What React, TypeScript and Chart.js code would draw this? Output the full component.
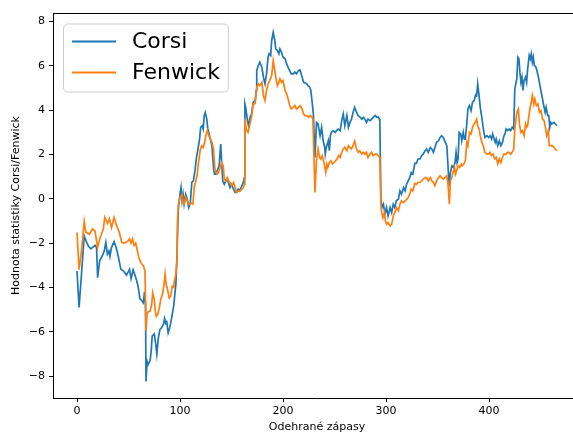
import { useEffect, useRef } from "react";
import { Chart, registerables } from "chart.js";

Chart.register(...registerables);

const seriesNames = ["Corsi", "Fenwick"];
const seriesColors = ["#1f77b4", "#ff7f0e"];
const xTitle = "Odehrané zápasy";
const yTitle = "Hodnota statistiky Corsi/Fenwick";
const xTicks = [0, 100, 200, 300, 400];
const yTicks = [-8, -6, -4, -2, 0, 2, 4, 6, 8];

const corsiGames = [
  0, 2, 4.5, 7, 9.5, 11, 13.5, 17.5, 19, 20, 22, 24.5, 26.5, 28, 29.5, 31, 32, 33.5, 36, 38, 40, 42.5, 45, 48, 51, 52.5, 54.5, 56, 58, 59.5,
  61, 63, 64.5, 65.5, 66.5, 67, 68, 69, 71, 72, 73, 75, 76.5, 77.5, 79, 80.5, 82, 84, 85, 86.5, 87, 88.5, 90, 92, 93, 94, 95, 96, 97, 98,
  98.5, 100, 101, 102, 103, 104, 105.5, 107, 108.5, 110, 111.5, 113, 114.5, 116, 118, 119, 120, 121.5, 122.5, 123.5, 124.5, 126, 127, 128, 129, 131, 132.5, 133.5, 135, 136,
  138, 139.5, 140.5, 141.5, 143, 144.5, 145.5, 147, 148.5, 150, 152, 153.5, 155, 156.5, 158, 160, 161.5, 162.5, 163, 164, 165.5, 166.5, 168, 169.5, 171, 173, 174, 174.5, 176, 177.5,
  179.5, 181, 182.5, 184, 185.5, 186.5, 188, 189, 190.5, 192, 193, 194.5, 196, 197, 198.5, 200, 202, 203.5, 205, 206.5, 208, 210, 211.5, 213, 215, 216.5, 218.5, 220, 223, 224.5,
  226, 227, 228.5, 229.5, 231, 232.5, 234, 236, 237.5, 239, 240.5, 241, 242, 244, 245, 246, 247, 248.5, 250.5, 252, 253.5, 255.5, 257, 258.5, 260, 262, 263.5, 265, 266.5, 268,
  269.5, 271.5, 273, 274.5, 276.5, 278, 279.5, 281, 282.5, 284.5, 286, 287.5, 289.5, 291, 292.5, 293.5, 294, 295, 296, 297.5, 299, 300.5, 302, 304, 305.5, 307, 308.5, 310, 312, 313.5,
  315, 317, 318.5, 320, 321.5, 323, 324.5, 326, 328, 329.5, 331, 333, 334.5, 336, 338, 339.5, 341, 343, 344.5, 346, 347.5, 349, 351, 352.5, 354, 355.5, 357, 359, 360, 360.5,
  361.5, 362.5, 364, 365.5, 367, 368, 369, 370, 371, 372.5, 373.5, 375, 376, 377, 378.5, 379.5, 381, 382.5, 384, 385.5, 387, 388, 389, 390.5, 391.5, 393, 394.5, 396, 398, 399.5,
  401, 402.5, 403.5, 405, 406, 407, 408.5, 410, 411.5, 413, 414.5, 415.5, 416.5, 418, 419.5, 421, 422.5, 424, 425, 426, 427, 428, 429, 430, 431, 432, 433, 434, 435.5, 436.5,
  437.5, 439, 440, 441, 442, 443, 444, 445.5, 446.5, 448, 449.5, 451, 452.5, 454.5, 455.5, 457, 458, 459, 460, 461, 463, 464.5, 466,
];
const corsiValues = [
  -3.26, -4.9, -3.3, -1.67, -1.98, -2.13, -2.26, -2.1, -2.2, -3.56, -2.8, -2.58, -2.35, -1.97, -2.5, -2.35, -2.6, -2.2, -1.93, -2.2, -2.58, -3.17, -3.25, -3.44, -3.18, -3.6, -3.2, -3.4, -3.7, -4.0,
  -4.5, -4.6, -4.7, -4.2, -4.7, -8.24, -7.33, -7.48, -7.3, -6.88, -6.2, -6.1, -6.58, -7.0, -6.27, -5.9, -5.82, -5.66, -5.4, -5.66, -5.5, -6.05, -5.82, -5.35, -5.07, -4.8, -4.3, -3.85, -2.65, -1.0,
  -0.39, 0.22, 0.51, -0.09, 0.21, -0.23, 0.2, -0.02, -0.39, -0.17, 0.74, 0.81, 1.27, 1.87, 2.4, 2.7, 3.23, 3.3, 3.15, 3.76, 3.9, 3.6, 3.15, 3.0, 2.77, 2.4, 1.42, 1.12, 1.12, 1.27,
  1.49, 2.47, 1.64, 0.81, 0.66, 0.81, 0.89, 0.74, 0.51, 0.66, 0.44, 0.29, 0.29, 0.44, 0.36, 0.59, 0.74, 0.96, 4.28, 4.06, 3.53, 3.3, 3.68, 3.83, 4.36, 4.43, 4.89, 5.79, 6.02, 6.17,
  5.94, 5.49, 5.19, 5.64, 6.39, 6.55, 6.47, 7.15, 7.52, 7.15, 6.77, 6.7, 6.55, 6.77, 6.62, 6.39, 6.32, 6.09, 5.94, 5.79, 5.64, 5.64, 5.72, 5.64, 5.79, 5.82, 5.5, 5.26, 5.2, 5.1,
  5.04, 4.9, 4.28, 3.8, 1.87, 3.45, 3.38, 2.85, 3.23, 2.62, 2.32, 2.02, 2.32, 2.62, 2.17, 2.85, 3.0, 3.08, 3.0, 3.08, 3.15, 3.08, 3.53, 3.83, 3.3, 3.76, 3.23, 3.45, 3.6, 3.9,
  4.13, 3.9, 3.75, 3.7, 3.6, 3.68, 3.6, 3.45, 3.6, 3.53, 3.6, 3.68, 3.76, 3.68, 3.7, 3.6, 3.5, 0.06, -0.39, -0.24, -0.69, -0.39, -0.77, -0.39, -0.62, -0.24, -0.39, -0.09, -0.02, 0.36,
  0.21, 0.51, 0.36, 0.66, 0.81, 0.96, 1.19, 1.12, 1.6, 1.6, 1.8, 1.8, 1.95, 2.02, 2.17, 2.25, 2.1, 2.32, 2.25, 2.1, 2.32, 2.55, 2.62, 2.77, 2.85, 2.77, 2.62, 2.4, 1.64, 1.19,
  0.59, 1.19, 1.49, 1.42, 1.64, 2.1, 1.64, 1.8, 3.0, 2.93, 2.62, 3.0, 2.7, 2.7, 3.45, 4.06, 4.21, 3.98, 4.36, 4.43, 4.7, 4.66, 5.19, 4.58, 4.13, 3.68, 3.15, 2.77, 2.85, 2.77,
  2.85, 2.7, 2.93, 2.7, 2.55, 2.7, 2.4, 2.62, 2.4, 2.55, 2.85, 2.93, 3.15, 3.08, 3.15, 3.08, 3.23, 3.15, 4.96, 5.19, 5.42, 6.39, 6.32, 5.72, 5.26, 5.49, 4.89, 5.34, 5.49, 5.26,
  5.87, 6.47, 6.32, 6.55, 6.17, 6.4, 6.02, 5.94, 5.79, 5.49, 5.1, 4.74, 4.36, 3.9, 4.13, 3.76, 3.76, 3.23, 3.45, 3.38, 3.45, 3.38, 3.3,
];

const fenwickGames = [
  0, 2, 4.5, 7, 8.5, 10.5, 12, 15, 17.5, 20, 22, 25.5, 27, 29.5, 31.5, 33.5, 36, 38.5, 41, 43.5, 46.5, 49.5, 51, 52.5, 54, 55.5, 57, 58, 60, 62,
  64.5, 66, 67, 68, 69, 71, 72.5, 73.5, 75, 76, 77, 78.5, 80, 81.5, 83, 84.5, 85.5, 86.5, 87.5, 89.5, 91, 92.5, 94, 94.5, 96, 97, 97.5, 98.5, 100, 102,
  103, 104, 105.5, 107, 109, 111, 112.5, 114, 115, 116.5, 118, 119.5, 121, 122.5, 124, 125, 126.5, 128, 129.5, 131, 132.5, 134, 136, 137.5, 139, 140.5, 142, 143, 144.5, 146,
  147, 148.5, 150, 152, 153.5, 155, 157, 158.5, 160, 161.5, 162.5, 163, 164.5, 166, 168, 169.5, 171, 173, 174.5, 176, 177.5, 179.5, 181, 182.5, 184, 185.5, 187, 189, 190.5, 191.5,
  193, 194.5, 196, 197, 198.5, 200, 202, 203.5, 205, 206.5, 208, 210, 211.5, 213, 215, 216.5, 218.5, 220, 221.5, 223, 225, 226.5, 228, 229, 231, 232.5, 234, 235.5, 236.5, 238,
  240, 241.5, 242.5, 243.5, 245, 246.5, 248, 249.5, 251, 252.5, 254, 255.5, 257, 258.5, 260, 262, 263.5, 265, 266.5, 268, 269.5, 271.5, 273, 274.5, 276.5, 278, 279.5, 281, 282.5, 284.5,
  286, 287.5, 289.5, 291, 292.5, 294, 295, 295.5, 297, 298.5, 299.5, 300.5, 302, 304, 305.5, 307, 308.5, 310, 312, 313.5, 315, 317, 318.5, 320, 321.5, 323, 324.5, 326, 328, 329.5,
  331, 333, 334.5, 336, 338, 339.5, 341, 343, 344.5, 346, 347.5, 349, 351, 352.5, 354, 355.5, 357, 359, 360, 360.5, 361.5, 362.5, 364, 365, 366.5, 367.5, 369, 370, 371.5, 373,
  374, 375.5, 377, 378.5, 379.5, 381, 382.5, 384, 385.5, 387, 388, 389, 390.5, 391.5, 393, 394.5, 396, 398, 399.5, 401, 402.5, 404, 405.5, 407, 408.5, 410, 411.5, 413, 414.5, 416.5,
  418, 419.5, 421, 422.5, 424, 425, 426, 427, 428.5, 429.5, 431, 432.5, 434, 435.5, 436.5, 437.5, 438.5, 440, 441, 442, 443.5, 444.5, 446, 447.5, 449, 450.5, 452, 453.5, 455, 456,
  457.5, 458.5, 460, 461.5, 463, 464.5, 466,
];
const fenwickValues = [
  -1.52, -3.2, -2.3, -1.03, -1.5, -1.55, -1.6, -1.36, -1.45, -2.2, -1.82, -1.36, -0.84, -1.12, -0.9, -1.3, -0.84, -1.22, -1.5, -1.97, -2.0, -1.9, -1.8, -2.0, -1.8, -2.1, -2.0, -2.2, -2.65, -2.88,
  -3.03, -3.26, -5.97, -5.2, -5.1, -5.07, -4.77, -4.24, -4.54, -5.07, -5.3, -5.2, -4.9, -4.5, -4.31, -3.86, -3.4, -3.86, -4.0, -4.47, -4.39, -3.94, -4.0, -3.7, -3.4, -2.8, -1.0, -0.24, 0.06, 0.21,
  -0.17, -0.24, 0.06, -0.1, -0.24, -0.2, -0.24, 0.59, 0.74, 1.04, 1.64, 2.17, 2.4, 2.32, 2.55, 2.85, 3.08, 2.85, 2.7, 2.55, 2.25, 1.27, 1.12, 1.19, 1.42, 1.64, 1.49, 0.89, 0.81, 0.96,
  0.81, 0.74, 0.59, 0.74, 0.51, 0.29, 0.36, 0.36, 0.44, 0.51, 0.66, 3.6, 3.1, 3.0, 3.4, 3.7, 4.28, 4.3, 5.04, 5.19, 5.11, 5.26, 4.66, 4.43, 4.89, 5.19, 5.34, 5.57, 6.24, 5.94,
  5.49, 5.11, 5.26, 5.42, 5.26, 5.34, 4.89, 4.74, 4.51, 4.21, 4.06, 4.13, 4.21, 4.06, 4.13, 4.21, 4.06, 3.83, 3.76, 3.76, 3.68, 3.76, 3.7, 3.6, 0.29, 1.72, 2.25, 1.87, 1.8, 1.95,
  1.57, 1.19, 1.57, 1.42, 1.64, 1.72, 1.57, 1.64, 1.72, 1.8, 1.95, 1.87, 2.1, 2.25, 2.32, 2.17, 2.4, 2.32, 2.25, 2.4, 2.6, 2.25, 2.1, 2.17, 2.02, 2.1, 2.02, 2.1, 1.87, 2.02,
  2.1, 1.95, 2.02, 2.02, 1.95, 1.87, -0.2, -0.54, -0.85, -0.62, -1.0, -1.15, -1.07, -1.22, -1.15, -0.77, -0.62, -0.39, -0.54, -0.24, -0.09, -0.17, -0.09, -0.02, 0.06, 0.21, 0.44, 0.36, 0.7, 0.65,
  0.74, 0.75, 0.81, 0.89, 0.96, 0.96, 0.81, 0.96, 0.81, 0.74, 0.59, 0.81, 0.96, 1.04, 0.96, 0.89, 0.96, 1.04, 0.74, 0.44, -0.24, 0.81, 0.96, 1.19, 1.42, 1.12, 1.34, 1.49, 1.42, 1.57,
  1.49, 1.57, 1.72, 2.55, 2.4, 3.0, 2.93, 3.23, 3.38, 3.5, 3.6, 3.3, 3.15, 2.85, 2.55, 2.4, 2.1, 2.02, 2.02, 2.1, 1.95, 2.02, 1.8, 1.87, 1.57, 1.8, 1.64, 1.87, 2.02, 2.02,
  2.1, 2.1, 2.02, 2.1, 2.25, 3.15, 3.53, 3.9, 4.06, 3.38, 3.0, 3.08, 2.85, 3.38, 3.23, 3.3, 3.68, 4.13, 4.36, 4.66, 4.28, 4.51, 4.21, 4.28, 3.9, 3.98, 3.6, 3.53, 3.15, 2.85,
  3.08, 2.4, 2.4, 2.4, 2.32, 2.25, 2.17,
];

const FONT = '"DejaVu Sans", sans-serif';

const spinesPlugin = {
  id: "mplSpines",
  afterDraw(chart: any) {
    const { ctx, chartArea } = chart;
    ctx.save();
    ctx.strokeStyle = "#000";
    ctx.lineWidth = 1;
    ctx.beginPath();
    ctx.moveTo(chartArea.left, chartArea.top + 0.5);
    ctx.lineTo(chartArea.right, chartArea.top + 0.5);
    ctx.moveTo(chartArea.right - 0.5, chartArea.top);
    ctx.lineTo(chartArea.right - 0.5, chartArea.bottom);
    ctx.stroke();
    ctx.restore();
  },
};

const legendPlugin = {
  id: "mplLegend",
  afterDraw(chart: any) {
    const { ctx, chartArea } = chart;
    const fs = 22;
    ctx.save();
    ctx.font = `${fs}px ${FONT}`;
    const datasets = chart.data.datasets;
    const maxW = Math.max(...datasets.map((d: any) => ctx.measureText(d.label).width));
    const x0 = chartArea.left + 10.5;
    const y0 = chartArea.top + 11;
    const pad = 8.5;
    const handle = 44;
    const textGap = 16;
    const w = pad + handle + textGap + maxW + pad;
    const h = 68;
    const r = 4.4;
    ctx.beginPath();
    ctx.moveTo(x0 + r, y0);
    ctx.lineTo(x0 + w - r, y0);
    ctx.arcTo(x0 + w, y0, x0 + w, y0 + r, r);
    ctx.lineTo(x0 + w, y0 + h - r);
    ctx.arcTo(x0 + w, y0 + h, x0 + w - r, y0 + h, r);
    ctx.lineTo(x0 + r, y0 + h);
    ctx.arcTo(x0, y0 + h, x0, y0 + h - r, r);
    ctx.lineTo(x0, y0 + r);
    ctx.arcTo(x0, y0, x0 + r, y0, r);
    ctx.closePath();
    ctx.fillStyle = "rgba(255,255,255,0.8)";
    ctx.fill();
    ctx.strokeStyle = "#cccccc";
    ctx.lineWidth = 1;
    ctx.stroke();
    datasets.forEach((d: any, i: number) => {
      const cy = y0 + 17.5 + i * 31;
      ctx.strokeStyle = d.borderColor;
      ctx.lineWidth = 2;
      ctx.beginPath();
      ctx.moveTo(x0 + pad, cy);
      ctx.lineTo(x0 + pad + handle, cy);
      ctx.stroke();
      ctx.fillStyle = "#000";
      ctx.textBaseline = "middle";
      ctx.textAlign = "left";
      ctx.fillText(d.label, x0 + pad + handle + textGap, cy + 1);
    });
    ctx.restore();
  },
};

export default function App() {
  const canvasRef = useRef<HTMLCanvasElement | null>(null);

  useEffect(() => {
    const canvas = canvasRef.current;
    if (!canvas) return;
    const toPoints = (xs: number[], ys: number[]) => xs.map((x, i) => ({ x, y: ys[i] }));
    const chart = new Chart(canvas, {
      type: "line",
      data: {
        datasets: [
          {
            label: seriesNames[0],
            data: toPoints(corsiGames, corsiValues),
            borderColor: seriesColors[0],
            backgroundColor: seriesColors[0],
            borderWidth: 1.7,
            pointRadius: 0,
            tension: 0,
            order: 2,
          },
          {
            label: seriesNames[1],
            data: toPoints(fenwickGames, fenwickValues),
            borderColor: seriesColors[1],
            backgroundColor: seriesColors[1],
            borderWidth: 1.7,
            pointRadius: 0,
            tension: 0,
            order: 1,
          },
        ],
      },
      options: {
        animation: false,
        responsive: false,
        maintainAspectRatio: false,
        layout: { padding: { left: 0, right: 0, top: 13, bottom: 0 } },
        plugins: {
          legend: { display: false },
          tooltip: { enabled: false },
        },
        scales: {
          x: {
            type: "linear",
            min: -23.3,
            max: 489.3,
            afterBuildTicks: (s: any) => {
              s.ticks = xTicks.map((v) => ({ value: v }));
            },
            afterFit: (s: any) => {
              s.height = 36;
            },
            grid: { display: true, drawOnChartArea: false, drawTicks: true, tickLength: 4, color: "#000" },
            border: { display: true, color: "#000", width: 1 },
            ticks: { color: "#000", font: { size: 11, family: FONT }, padding: 3, maxRotation: 0, autoSkip: false },
            title: { display: true, text: xTitle, color: "#000", font: { size: 11, family: FONT }, padding: { top: 0, bottom: 0 } },
          },
          y: {
            type: "linear",
            min: -8.99,
            max: 8.39,
            afterBuildTicks: (s: any) => {
              s.ticks = yTicks.map((v) => ({ value: v }));
            },
            afterFit: (s: any) => {
              s.width = 53;
            },
            grid: { display: true, drawOnChartArea: false, drawTicks: true, tickLength: 4, color: "#000" },
            border: { display: true, color: "#000", width: 1 },
            ticks: {
              color: "#000",
              font: { size: 11, family: FONT },
              padding: 4,
              callback: (v: any) => String(v).replace("-", "\u2212"),
            },
            title: { display: true, text: yTitle, color: "#000", font: { size: 11, family: FONT }, padding: { top: 10, bottom: 0 } },
          },
        },
      },
      plugins: [spinesPlugin, legendPlugin],
    });
    return () => chart.destroy();
  }, []);

  return (
    <div style={{ position: "fixed", left: 0, top: 0, width: 573, height: 434, overflow: "hidden", background: "#fff" }}>
      <canvas ref={canvasRef} width={581} height={434} style={{ display: "block", width: 581, height: 434 }} />
    </div>
  );
}
